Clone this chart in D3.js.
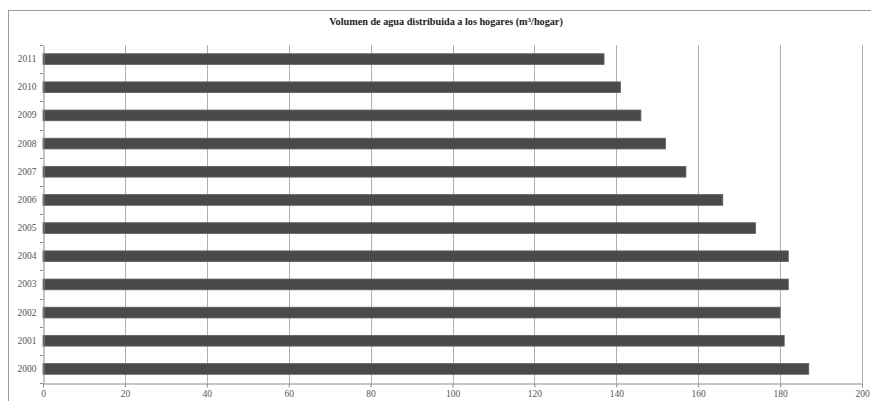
<!DOCTYPE html>
<html>
<head>
<meta charset="utf-8">
<script src="https://cdn.jsdelivr.net/npm/d3@7/dist/d3.min.js"></script>
<style>
  html, body { margin: 0; padding: 0; background: #fff; }
  svg { display: block; }
</style>
</head>
<body>
<svg id="chart" width="871" height="401"></svg>
<script>
// Household water volume per year (m³ per household)
const years = ["2011", "2010", "2009", "2008", "2007", "2006", "2005", "2004", "2003", "2002", "2001", "2000"];
const volumes = [137, 141, 146, 152, 157, 166, 174, 182, 182, 180, 181, 187];
const xTicks = [0, 20, 40, 60, 80, 100, 120, 140, 160, 180, 200];
const titleText = "Volumen de agua distribuida a los hogares (m";
const titleSup = "3";
const titleEnd = "/hogar)";

const svg = d3.select("#chart");
const W = 871, H = 401;
const m = { left: 43, right: 9, top: 45, bottom: 18 };
const plotRight = W - m.right;
const plotBottom = H - m.bottom;

// outer frame
svg.append("rect")
  .attr("x", 8.5).attr("y", 10.5)
  .attr("width", W + 10).attr("height", H + 10)
  .attr("fill", "none").attr("stroke", "#9a9a9a").attr("stroke-width", 1);

const x = d3.scaleLinear().domain([0, 200]).range([m.left, plotRight]);
const y = d3.scaleBand().domain(years).range([m.top, plotBottom]).paddingInner(0.62).paddingOuter(0.31);

// vertical gridlines
svg.append("g")
  .selectAll("line")
  .data(xTicks.filter(d => d > 0))
  .join("line")
  .attr("x1", d => Math.round(x(d)) + 0.5)
  .attr("x2", d => Math.round(x(d)) + 0.5)
  .attr("y1", m.top).attr("y2", plotBottom)
  .attr("stroke", "#b0b0b0").attr("stroke-width", 1);

// bars
svg.append("g")
  .selectAll("rect")
  .data(years.map((yr, i) => ({ yr, v: volumes[i] })))
  .join("rect")
  .attr("x", x(0))
  .attr("y", d => y(d.yr))
  .attr("width", d => x(d.v) - x(0))
  .attr("height", y.bandwidth())
  .attr("fill", "#4a4a4a")
  .attr("stroke", "#5e5e5e")
  .attr("stroke-width", 0.8);

// bottom axis
const xAxis = d3.axisBottom(x).tickValues(xTicks).tickSize(4).tickSizeOuter(0).tickPadding(3);
const gx = svg.append("g")
  .attr("transform", `translate(0,${Math.round(plotBottom) + 0.5})`)
  .call(xAxis);
gx.select(".domain").attr("stroke", "#8a8a8a");
gx.selectAll(".tick line").attr("stroke", "#8a8a8a");
gx.selectAll(".tick text")
  .attr("font-family", "'Liberation Serif', 'DejaVu Serif', serif")
  .attr("font-size", 9.5).attr("fill", "#555");

// left axis
const yAxis = d3.axisLeft(y).tickSize(0).tickPadding(7);
const gy = svg.append("g")
  .attr("transform", `translate(${Math.round(m.left) + 0.5},0)`)
  .call(yAxis);
gy.select(".domain").attr("stroke", "#8a8a8a");
gy.selectAll(".tick text")
  .attr("font-family", "'Liberation Serif', 'DejaVu Serif', serif")
  .attr("font-size", 9.5).attr("fill", "#555");

// small tick marks between categories on the left axis
svg.append("g")
  .selectAll("line")
  .data(d3.range(years.length + 1))
  .join("line")
  .attr("x1", m.left - 3).attr("x2", m.left)
  .attr("y1", i => Math.round(m.top + i * (plotBottom - m.top) / years.length) + 0.5)
  .attr("y2", i => Math.round(m.top + i * (plotBottom - m.top) / years.length) + 0.5)
  .attr("stroke", "#8a8a8a");

// title
const t = svg.append("text")
  .attr("x", 446).attr("y", 25)
  .attr("text-anchor", "middle")
  .attr("font-family", "'Liberation Serif', 'DejaVu Serif', serif")
  .attr("font-weight", "bold")
  .attr("font-size", 10.2)
  .attr("fill", "#222");
t.append("tspan").text(titleText);
t.append("tspan").attr("dy", -3).attr("font-size", 7).text(titleSup);
t.append("tspan").attr("dy", 3).text(titleEnd);
</script>
</body>
</html>
